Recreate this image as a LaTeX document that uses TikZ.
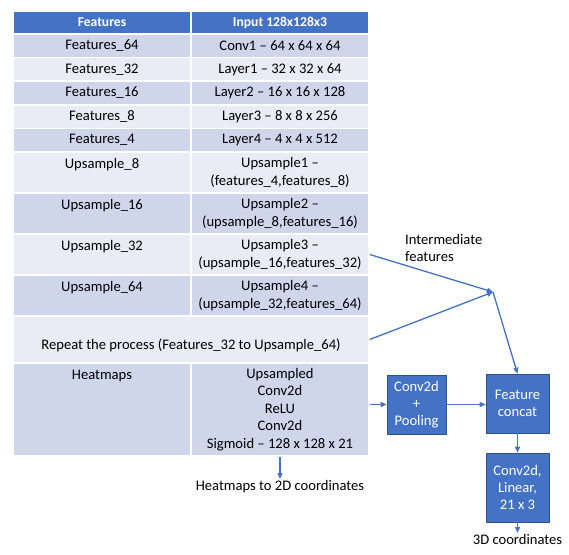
\documentclass[tikz,border=0pt]{standalone}
\usepackage{fontspec}
\setmainfont{Carlito}
\usetikzlibrary{arrows.meta}
\definecolor{hdblue}{HTML}{4472C4}
\definecolor{rowdark}{HTML}{CFD5EA}
\definecolor{rowlight}{HTML}{E9EBF5}
\definecolor{boxedge}{HTML}{2F528F}
\begin{document}
\begin{tikzpicture}[x=1pt, y=-1pt,
    font=\fontsize{14.6}{17.5}\selectfont,
    cell/.style={rectangle, draw=white, line width=1.5pt, minimum width=178pt, inner sep=0pt, align=center},
    dark/.style={cell, fill=rowdark},
    light/.style={cell, fill=rowlight},
    head/.style={cell, fill=hdblue, text=white, font=\fontsize{13.6}{17.5}\selectfont\bfseries},
    block/.style={rectangle, fill=hdblue, draw=boxedge, line width=0.6pt, text=white, align=center, inner sep=0pt,
      font=\fontsize{14.6}{17}\selectfont},
    flow/.style={draw=hdblue, line width=1.3pt, -{Triangle[length=6pt, width=5pt]}}]
  \useasboundingbox (0,0) rectangle (569,554);

  % Table
  \node[head, minimum height=23pt] at (102, 22.5) (fhead) {Features};
  \node[head, minimum height=23pt] at (280, 22.5) (ihead) {Input 128x128x3};

  \node[dark, minimum height=23.6pt] at (102, 45.8) (feat64) {Features\_64};
  \node[dark, minimum height=23.6pt] at (280, 45.8) (conv1) {Conv1 -- 64 x 64 x 64};
  \node[light, minimum height=23.6pt] at (102, 69.4) (feat32) {Features\_32};
  \node[light, minimum height=23.6pt] at (280, 69.4) (layer1) {Layer1 -- 32 x 32 x 64};
  \node[dark, minimum height=23.6pt] at (102, 93) (feat16) {Features\_16};
  \node[dark, minimum height=23.6pt] at (280, 93) (layer2) {Layer2 -- 16 x 16 x 128};
  \node[light, minimum height=23.6pt] at (102, 116.6) (feat8) {Features\_8};
  \node[light, minimum height=23.6pt] at (280, 116.6) (layer3) {Layer3 -- 8 x 8 x 256};
  \node[dark, minimum height=23.6pt] at (102, 140.2) (feat4) {Features\_4};
  \node[dark, minimum height=23.6pt] at (280, 140.2) (layer4) {Layer4 -- 4 x 4 x 512};

  \node[light, minimum height=41pt] at (102, 172.5) (up8) {Upsample\_8\\\mbox{}};
  \node[light, minimum height=41pt] at (280, 172.5) (ups1) {Upsample1 --\\(features\_4,features\_8)};
  \node[dark, minimum height=41pt] at (102, 213.5) (up16) {Upsample\_16\\\mbox{}};
  \node[dark, minimum height=41pt] at (280, 213.5) (ups2) {Upsample2 --\\(upsample\_8,features\_16)};
  \node[light, minimum height=41pt] at (102, 254.5) (up32) {Upsample\_32\\\mbox{}};
  \node[light, minimum height=41pt] at (280, 254.5) (ups3) {Upsample3 --\\(upsample\_16,features\_32)};
  \node[dark, minimum height=41pt] at (102, 295.5) (up64) {Upsample\_64\\\mbox{}};
  \node[dark, minimum height=41pt] at (280, 295.5) (ups4) {Upsample4 --\\(upsample\_32,features\_64)};

  \node[light, minimum width=356pt, minimum height=47pt] at (191, 339.5) (repeat)
    {\raisebox{-5.5pt}[\height][\depth]{Repeat the process (Features\_32 to Upsample\_64)}};

  \node[dark, minimum height=93pt] at (102, 409.5) (heat) {Heatmaps\\\mbox{}\\\mbox{}\\\mbox{}\\\mbox{}};
  \node[dark, minimum height=93pt] at (280, 409.5) (heatops) {Upsampled\\Conv2d\\ReLU\\Conv2d\\Sigmoid -- 128 x 128 x 21};

  % Blocks
  \node[block, minimum width=59pt, minimum height=59pt] at (416.5, 404.5) (conv) {Conv2d\\+\\Pooling};
  \node[block, minimum width=63pt, minimum height=59pt] at (517.5, 403.5) (concat) {Feature\\concat};
  \node[block, minimum width=63pt, minimum height=69pt] at (517.5, 487.5) (head3d) {Conv2d,\\Linear,\\21 x 3};

  % Labels
  \node[align=left, anchor=north west, inner sep=0pt] at (405, 234) (interlbl) {Intermediate\\features};
  \node[anchor=north, inner sep=1pt] at (280, 479) (to2d) {Heatmaps to 2D coordinates};
  \node[anchor=north, inner sep=1pt] at (517.5, 533) (out3d) {3D coordinates};
  \coordinate (merge) at (493, 292);

  % Arrows
  \draw[flow] (ups3.east) -- (merge);
  \draw[flow] (repeat.east) -- (merge);
  \draw[flow] (merge) -- (concat.north);
  \draw[flow] (heatops.east |- conv.west) -- (conv.west);
  \draw[flow] (conv.east) -- (conv.east -| concat.west);
  \draw[flow] (concat) -- (head3d);
  \draw[flow] (head3d) -- (out3d);
  \draw[flow] (heatops) -- (to2d);
\end{tikzpicture}
\end{document}
